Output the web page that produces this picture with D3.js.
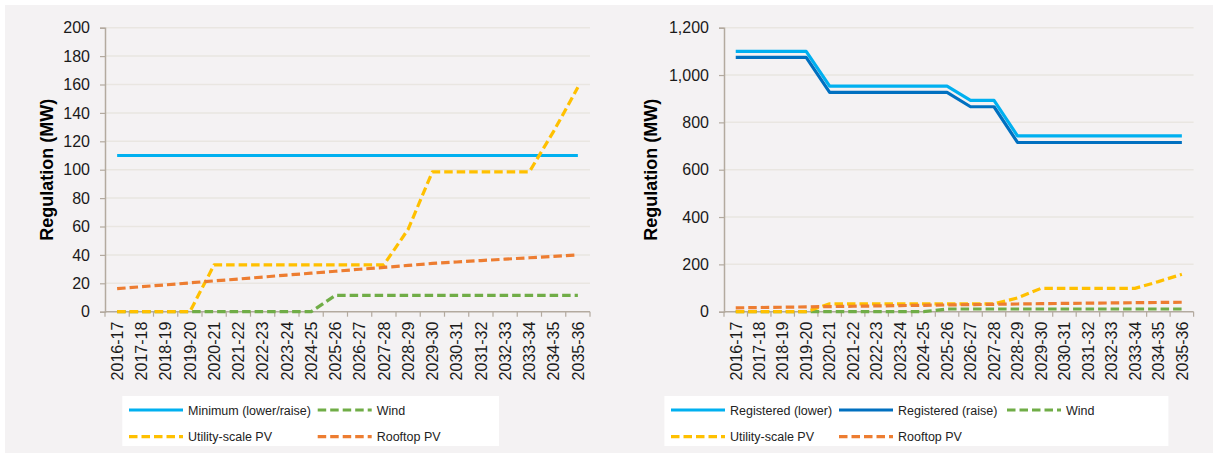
<!DOCTYPE html>
<html>
<head>
<meta charset="utf-8">
<script src="https://cdn.jsdelivr.net/npm/d3@7"></script>
<style>
  html, body { margin: 0; padding: 0; background: #ffffff; }
  svg { display: block; font-family: "Liberation Sans", Arial, sans-serif; }
</style>
</head>
<body>
<svg id="chart" width="1218" height="454"></svg>
<script>
// ---------- DATA ----------
const categories = ["2016-17","2017-18","2018-19","2019-20","2020-21","2021-22","2022-23","2023-24","2024-25","2025-26",
                    "2026-27","2027-28","2028-29","2029-30","2030-31","2031-32","2032-33","2033-34","2034-35","2035-36"];

const minimumLowerRaise = [110,110,110,110,110,110,110,110,110,110,110,110,110,110,110,110,110,110,110,110];
const registeredLower   = [1100,1100,1100,1100,953,953,953,953,953,953,893,893,743,743,743,743,743,743,743,743];
const registeredRaise   = [1075,1075,1075,1075,927,927,927,927,927,927,866,866,715,715,715,715,715,715,715,715];
const wind              = [0,0,0,0,0,0,0,0,0,11.5,11.5,11.5,11.5,11.5,11.5,11.5,11.5,11.5,11.5,11.5];
const utilityPV         = [0,0,0,0,33,33,33,33,33,33,33,33,58,98.5,98.5,98.5,98.5,98.5,127,158];
const rooftopPV         = [16.2,17.6,18.9,20.3,21.7,23.0,24.4,25.8,27.1,28.5,29.9,31.2,32.6,34.0,35.0,36.0,37.0,38.0,39.0,40.0];

const leftYTicks  = [0,20,40,60,80,100,120,140,160,180,200];
const rightYTicks = [0,200,400,600,800,1000,1200];
const yAxisTitle = "Regulation (MW)";

const leftSeriesNames  = ["Minimum (lower/raise)","Wind","Utility-scale PV","Rooftop PV"];
const rightSeriesNames = ["Registered (lower)","Registered (raise)","Wind","Utility-scale PV","Rooftop PV"];

// ---------- STYLES ----------
const COLORS = {
  light: "#00b0f0", dark: "#0070c0", wind: "#70ad47", util: "#ffc000", roof: "#ed7d31"
};
const DASH = "8.5,4";
const styleFor = {
  "Minimum (lower/raise)": {c: COLORS.light, dash: null},
  "Registered (lower)":    {c: COLORS.light, dash: null},
  "Registered (raise)":    {c: COLORS.dark,  dash: null},
  "Wind":                  {c: COLORS.wind,  dash: DASH},
  "Utility-scale PV":      {c: COLORS.util,  dash: DASH},
  "Rooftop PV":            {c: COLORS.roof,  dash: DASH}
};

const svg = d3.select("#chart");
svg.append("rect").attr("x",5).attr("y",5).attr("width",1208).attr("height",448).attr("fill","#f4f2f3");

function drawPanel(cfg) {
  const g = svg.append("g");
  const x = d3.scaleBand().domain(categories).range([cfg.x0, cfg.x1]);
  const y = d3.scaleLinear().domain([0, cfg.ymax]).range([cfg.yb, cfg.yt]);
  const bw = x.bandwidth();

  // gridlines
  g.selectAll(".grid").data(cfg.yTicks.filter(t => t > 0)).join("line")
    .attr("x1", cfg.x0).attr("x2", cfg.x1)
    .attr("y1", d => y(d)).attr("y2", d => y(d))
    .attr("stroke", "#e9e6e1").attr("stroke-width", 1.5);

  // y axis
  const yAxis = d3.axisLeft(y).tickValues(cfg.yTicks).tickSize(5).tickPadding(10)
    .tickFormat(cfg.fmt);
  const ya = g.append("g").attr("transform", `translate(${cfg.x0},0)`).call(yAxis);
  ya.select(".domain").attr("stroke", "#b3aa9f").attr("stroke-width", 1.5);
  ya.selectAll(".tick line").attr("stroke", "#b3aa9f").attr("stroke-width", 1.2);
  ya.selectAll(".tick text").attr("font-size", 16).attr("fill", "#1a1a1a")
    .attr("font-family", "Liberation Sans, Arial, sans-serif");

  // x axis
  const xa = g.append("g").attr("transform", `translate(0,${cfg.yb})`)
    .call(d3.axisBottom(x).tickSize(0).tickPadding(0));
  xa.select(".domain").remove();
  xa.selectAll(".tick text")
    .attr("transform", "rotate(-90)")
    .attr("text-anchor", "end")
    .attr("x", -10).attr("y", 0).attr("dy", "0.36em")
    .attr("font-size", 16).attr("fill", "#1a1a1a")
    .attr("font-family", "Liberation Sans, Arial, sans-serif");
  // boundary ticks
  const bounds = categories.map(c => x(c)).concat([cfg.x1]);
  g.selectAll(".xb").data(bounds).join("line")
    .attr("x1", d => d).attr("x2", d => d)
    .attr("y1", cfg.yb).attr("y2", cfg.yb + 5)
    .attr("stroke", "#b3aa9f").attr("stroke-width", 1.2);
  g.append("line").attr("x1", cfg.x0).attr("x2", cfg.x1).attr("y1", cfg.yb).attr("y2", cfg.yb)
    .attr("stroke", "#b3aa9f").attr("stroke-width", 1.5);

  // title
  g.append("text")
    .attr("transform", `translate(${cfg.titleX},${(cfg.yt + cfg.yb) / 2}) rotate(-90)`)
    .attr("text-anchor", "middle").attr("font-size", 18).attr("font-weight", "bold")
    .attr("fill", "#000").text(yAxisTitle);

  // series
  const line = d3.line().x((d, i) => x(categories[i]) + bw / 2).y(d => y(d));
  cfg.series.forEach(s => {
    const st = styleFor[s.name];
    g.append("path").datum(s.values)
      .attr("d", line).attr("fill", "none")
      .attr("stroke", st.c).attr("stroke-width", 3.2)
      .attr("stroke-linejoin", "round")
      .attr("stroke-dasharray", st.dash);
  });

  // legend
  const lg = g.append("g");
  lg.append("rect").attr("x", cfg.leg.x).attr("y", 396).attr("width", cfg.leg.w).attr("height", 50)
    .attr("fill", "#ffffff");
  cfg.leg.items.forEach(it => {
    const st = styleFor[it.name];
    lg.append("line").attr("x1", it.x).attr("x2", it.x + 54).attr("y1", it.y).attr("y2", it.y)
      .attr("stroke", st.c).attr("stroke-width", 3.2).attr("stroke-dasharray", st.dash);
    lg.append("text").attr("x", it.x + 59).attr("y", it.y).attr("dy", "0.36em")
      .attr("font-size", 12.5).attr("fill", "#222").text(it.name);
  });
}

drawPanel({
  x0: 105, x1: 590, yt: 27.7, yb: 311.7, ymax: 200, yTicks: leftYTicks, fmt: d3.format("d"),
  titleX: 53,
  series: [
    {name: leftSeriesNames[0], values: minimumLowerRaise},
    {name: leftSeriesNames[1], values: wind},
    {name: leftSeriesNames[2], values: utilityPV},
    {name: leftSeriesNames[3], values: rooftopPV}
  ],
  leg: {x: 122.3, w: 376.7, items: [
    {name: leftSeriesNames[0], x: 129, y: 410},
    {name: leftSeriesNames[1], x: 317.7, y: 410},
    {name: leftSeriesNames[2], x: 129, y: 436.7},
    {name: leftSeriesNames[3], x: 317.7, y: 436.7}
  ]}
});

drawPanel({
  x0: 724, x1: 1193.6, yt: 27.7, yb: 311.7, ymax: 1200, yTicks: rightYTicks, fmt: d3.format(","),
  titleX: 657,
  series: [
    {name: rightSeriesNames[0], values: registeredLower},
    {name: rightSeriesNames[1], values: registeredRaise},
    {name: rightSeriesNames[2], values: wind},
    {name: rightSeriesNames[3], values: utilityPV},
    {name: rightSeriesNames[4], values: rooftopPV}
  ],
  leg: {x: 664.4, w: 504, items: [
    {name: rightSeriesNames[0], x: 671, y: 410},
    {name: rightSeriesNames[1], x: 839, y: 410},
    {name: rightSeriesNames[2], x: 1007, y: 410},
    {name: rightSeriesNames[3], x: 671, y: 436.7},
    {name: rightSeriesNames[4], x: 839, y: 436.7}
  ]}
});
</script>
</body>
</html>
